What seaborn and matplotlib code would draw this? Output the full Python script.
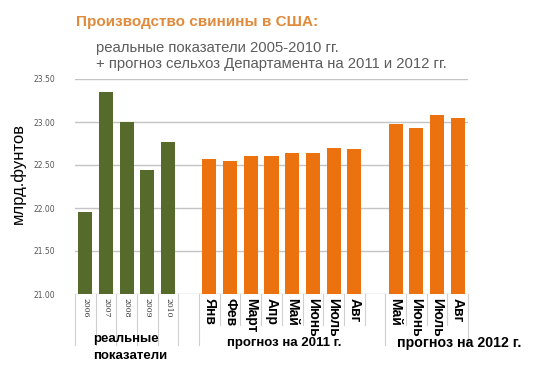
import pandas as pd
import seaborn as sb
import matplotlib.pyplot as plt

years = ["2006", "2007", "2008", "2009", "2010"]
year_values = [21.95, 23.35, 23.00, 22.44, 22.77]

months_2011 = ["Янв", "Фев", "Март", "Апр", "Май", "Июнь", "Июль", "Авг"]
values_2011 = [22.57, 22.55, 22.60, 22.61, 22.64, 22.64, 22.70, 22.69]

months_2012 = ["Май", "Июнь", "Июль", "Авг"]
values_2012 = [22.98, 22.93, 23.08, 23.05]

y_ticks = [21.0, 21.5, 22.0, 22.5, 23.0, 23.5]

# one slot per bar, plus an empty slot between the groups
slots = ([("real", y, v) for y, v in zip(years, year_values)]
         + [("gap1", "", None)]
         + [("f2011", m, v) for m, v in zip(months_2011, values_2011)]
         + [("gap2", "", None)]
         + [("f2012", m, v) for m, v in zip(months_2012, values_2012)])
df = pd.DataFrame({
    "slot": [f"{g}-{i}" for i, (g, l, v) in enumerate(slots)],
    "label": [l for g, l, v in slots],
    "group": [g for g, l, v in slots],
    "value": [v for g, l, v in slots],
})
order = list(df["slot"])
bars = df.dropna(subset=["value"])

plt.rcParams["font.family"] = ["Liberation Sans", "DejaVu Sans"]
fig = plt.figure(figsize=(5.43, 3.75), dpi=100)
ax = fig.add_axes([75 / 543, 1 - 294 / 375, 393 / 543, 215 / 375])

palette = {"real": "#566a2b", "f2011": "#ec720f", "f2012": "#ec720f"}
sb.barplot(data=bars, x="slot", y="value", hue="group", order=order,
           palette=palette, dodge=False, width=0.68, legend=False,
           saturation=1, ax=ax)

ax.set_ylim(21.0, 23.5)
ax.set_xlim(-0.5, len(order) - 0.5)
ax.set_yticks(y_ticks)
ax.set_yticklabels([f"{t:.2f}" for t in y_ticks], fontsize=5.5,
                   color="#555555", family="DejaVu Sans")
ax.tick_params(axis="y", length=0, pad=14)
ax.tick_params(axis="x", length=0, pad=3)
ax.grid(axis="y", color="#c4c4c4", linewidth=1)
ax.set_axisbelow(True)
for s in ax.spines.values():
    s.set_visible(False)
ax.set_xlabel("")
ax.set_ylabel("")

ax.set_xticks(range(len(order)))
ax.set_xticklabels(df["label"], rotation=270, ha="center", va="top")
for lab, g in zip(ax.get_xticklabels(), df["group"]):
    if g == "real":
        lab.set_fontsize(5.5)
        lab.set_family("DejaVu Serif")
        lab.set_color("#333333")
    else:
        lab.set_fontsize(10)
        lab.set_fontweight("bold")
        lab.set_color("black")

# separators under the axis
for i in range(len(order) + 1):
    x = i - 0.5
    long = x <= 5.5 or x in (14.5, 18.5)
    ax.plot([x, x], [0, -0.235 if long else -0.145], transform=ax.get_xaxis_transform(),
            color="#cfcfcf", linewidth=0.8, clip_on=False)

fig.text(76 / 543, 1 - 22 / 375, "Производство свинины в США:", fontsize=11,
         fontweight="bold", color="#e08a3c", va="center")
fig.text(96 / 543, 1 - 48 / 375, "реальные показатели 2005-2010 гг.", fontsize=10.7,
         color="#5c5c5c", va="center")
fig.text(96 / 543, 1 - 64 / 375, "+ прогноз сельхоз Департамента на 2011 и 2012 гг.",
         fontsize=10.7, color="#5c5c5c", va="center")
fig.text(18 / 543, 1 - 174 / 375, "млрд.фунтов", rotation=90, fontsize=12,
         color="black", ha="center", va="center")

fig.text(93 / 543, 1 - 339 / 375, "реальные", fontsize=9.5, fontweight="bold", va="center")
fig.text(93 / 543, 1 - 356 / 375, "показатели", fontsize=9.5, fontweight="bold", va="center")
fig.text(227 / 543, 1 - 343 / 375, "прогноз на 2011 г.", fontsize=9.5,
         fontweight="bold", va="center")
fig.text(397 / 543, 1 - 343 / 375, "прогноз на 2012 г.", fontsize=10.2,
         fontweight="bold", va="center")

plt.savefig("out.png", dpi=100)
